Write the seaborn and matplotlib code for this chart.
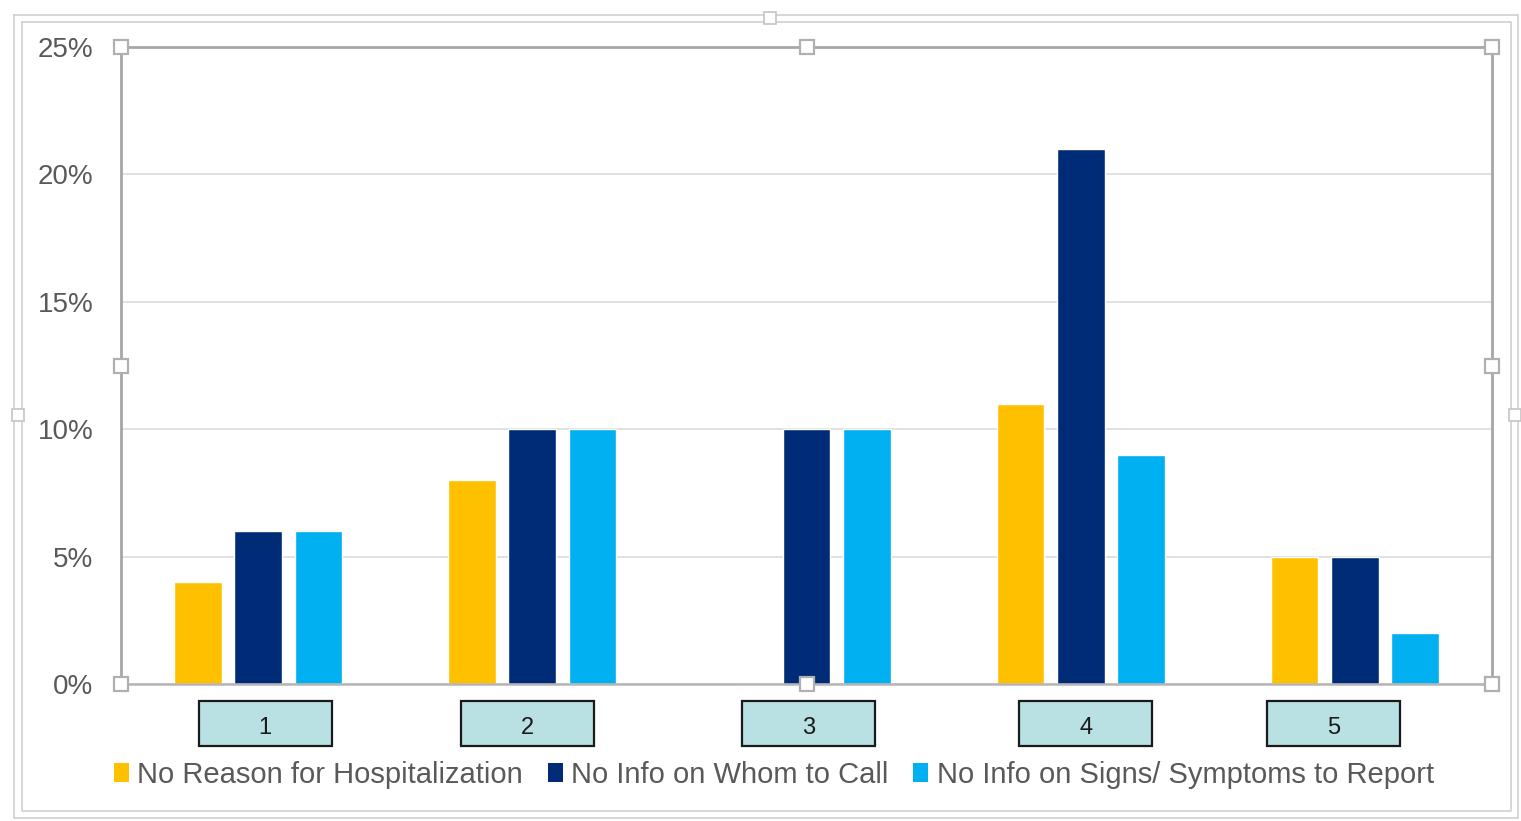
import matplotlib
matplotlib.use("Agg")
import matplotlib.pyplot as plt
from matplotlib.patches import Rectangle, Patch
from matplotlib.lines import Line2D
import pandas as pd
import seaborn as sns

# ---- data -------------------------------------------------------------
groups = ["1", "2", "3", "4", "5"]
series = [
    "No Reason for Hospitalization",
    "No Info on Whom to Call",
    "No Info on Signs/ Symptoms to Report",
]
no_reason = [4, 8, 0, 11, 5]
no_whom = [6, 10, 10, 21, 5]
no_signs = [6, 10, 10, 9, 2]
y_ticks = [0, 5, 10, 15, 20, 25]
colors = ["#FFC000", "#002C77", "#00B0F0"]

rows = []
for name, vals in zip(series, [no_reason, no_whom, no_signs]):
    for g, v in zip(groups, vals):
        rows.append({"group": g, "series": name, "value": v})
df = pd.DataFrame(rows)

# ---- figure -----------------------------------------------------------
W, H = 1521, 821
sns.set_theme(style="white")
plt.rcParams["font.family"] = ["Liberation Sans", "DejaVu Sans"]

fig = plt.figure(figsize=(W / 100, H / 100), dpi=100)
fig.patch.set_facecolor("white")
ax = fig.add_axes([121 / W, 1 - 684 / H, (1492 - 121) / W, (684 - 47) / H])

sns.barplot(
    data=df, x="group", y="value", hue="series", order=groups,
    hue_order=series, palette=colors, width=0.66, gap=0.21,
    saturation=1, legend=False, ax=ax, zorder=3,
)

ax.set_ylim(0, 25)
ax.set_xlim(-0.5, len(groups) - 0.5)
ax.set_yticks(y_ticks)
ax.set_yticklabels([f"{t}%" for t in y_ticks])
ax.set_xlabel("")
ax.set_ylabel("")
ax.tick_params(axis="y", length=0, pad=20, labelsize=20, labelcolor="#595959")
ax.tick_params(axis="x", length=0, labelbottom=False)
ax.yaxis.grid(True, color="#d9d9d9", linewidth=1.1, zorder=0)
ax.set_axisbelow(True)

for side in ["top", "left", "right"]:
    ax.spines[side].set_color("#a6a6a6")
    ax.spines[side].set_linewidth(2.0)
ax.spines["bottom"].set_color("#b5b5b5")
ax.spines["bottom"].set_linewidth(1.8)
ax.spines["bottom"].set_zorder(4)

# ---- category labels in boxes ----------------------------------------
box_nudge = [0.026, -0.018, 0.007, 0.018, -0.077]
box_w = 0.485
ax_h_px = 684 - 47
box_y0 = -62 / ax_h_px
box_h = 45 / ax_h_px
text_y = -44 / ax_h_px
xform = ax.get_xaxis_transform()
for i, (g, dx) in enumerate(zip(groups, box_nudge)):
    cx = i + dx
    ax.add_patch(Rectangle((cx - box_w / 2, box_y0), box_w, box_h,
                           transform=xform, facecolor="#B9E0E2",
                           edgecolor="#1a1a1a", linewidth=1.6,
                           clip_on=False, zorder=5))
    ax.text(cx, text_y, g, transform=xform, ha="center",
            va="center", fontsize=17, color="#1a1a1a", clip_on=False,
            zorder=6)

# ---- selection handles on the plot area ------------------------------
for hx, hy in [(0, 0), (0.5, 0), (1, 0), (0, 0.5), (1, 0.5),
               (0, 1), (0.5, 1), (1, 1)]:
    ax.add_line(Line2D([hx], [hy], transform=ax.transAxes, marker="s",
                       markersize=9.5, markerfacecolor="white",
                       markeredgecolor="#b0b0b0", markeredgewidth=1.6,
                       clip_on=False, zorder=7))

# ---- legend -----------------------------------------------------------
handles = [Patch(facecolor=c, edgecolor="none") for c in colors]
fig.legend(handles, series, loc="center",
           bbox_to_anchor=(774 / W, 1 - 775 / H), ncol=3, frameon=False,
           fontsize=21, handlelength=0.5, handleheight=0.6,
           handletextpad=0.3, columnspacing=0.85, labelcolor="#595959",
           borderaxespad=0, borderpad=0)

# ---- outer chart frame (double line) ---------------------------------
def fx(x):
    return x / W


def fy(y):
    return 1 - y / H


for (x0, y0, x1, y1) in [(14, 15, 1518, 818), (22, 22, 1511, 811)]:
    fig.add_artist(Line2D([fx(x0), fx(x1), fx(x1), fx(x0), fx(x0)],
                          [fy(y0), fy(y0), fy(y1), fy(y1), fy(y0)],
                          transform=fig.transFigure, color="#cfcfcf",
                          linewidth=1.2))

for (hx, hy) in [(770, 18), (18, 415), (1515, 415)]:
    fig.add_artist(Line2D([fx(hx)], [fy(hy)], transform=fig.transFigure,
                          marker="s", markersize=9, markerfacecolor="white",
                          markeredgecolor="#c4c4c4", markeredgewidth=1.2))

fig.savefig("out.png", dpi=100, facecolor="white")
